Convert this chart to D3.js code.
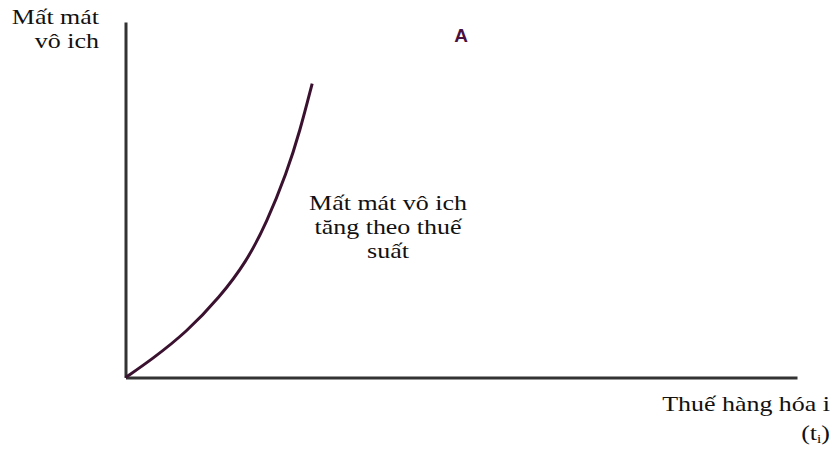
<!DOCTYPE html>
<html><head><meta charset="utf-8">
<script src="https://cdn.jsdelivr.net/npm/d3@7"></script>
<style>
body{margin:0;background:#fff;}
svg{display:block;}
text{font-family:"Liberation Serif","Times New Roman",serif;fill:#111;}
</style></head>
<body>
<svg id="c" width="833" height="449"></svg>
<script>
// Tax rate (share of x-axis) and deadweight loss (share of y-axis)
const taxRate = [0, 4.0, 9.1, 14.0, 18.0, 21.0, 24.0, 26.0, 27.8];
const deadweightLoss = [0, 5.2, 12.8, 22.5, 32.5, 43.5, 57.5, 69.5, 82.7];
const yTitle = ["Mất mát", "vô ich"];
const xTitle = "Thuế hàng hóa i";
const noteLines = ["Mất mát vô ich", "tăng theo thuế", "suất"];
const panelLabel = "A";

const svg = d3.select("#c");
const x = d3.scaleLinear().domain([0, 100]).range([125.5, 797]);
const y = d3.scaleLinear().domain([0, 100]).range([377.5, 22]);

// axes (no ticks)
svg.append("g").attr("transform", `translate(0,${y(0)})`)
  .call(d3.axisBottom(x).tickValues([]).tickSizeOuter(0))
  .select(".domain").attr("stroke", "#333").attr("stroke-width", 3);
svg.append("g").attr("transform", `translate(${x(0)},0)`)
  .call(d3.axisLeft(y).tickValues([]).tickSizeOuter(0))
  .select(".domain").attr("stroke", "#333").attr("stroke-width", 3);

// curve
const pts = taxRate.map((t, i) => [t, deadweightLoss[i]]);
svg.append("path")
  .attr("d", d3.line().x(d => x(d[0])).y(d => y(d[1])).curve(d3.curveBasis)(pts))
  .attr("fill", "none").attr("stroke", "#3a1230").attr("stroke-width", 3)
  .attr("stroke-linecap", "butt");

const fs = 22, sx = 1.18;
function label(px, py, anchor) {
  return svg.append("g").attr("transform", `translate(${px},${py}) scale(${sx},1)`)
    .append("text").attr("text-anchor", anchor).attr("font-size", fs);
}
// y title
yTitle.forEach((s, i) => label(99, 24 + i * 24, "end").text(s));

// x title
label(830, 411, "end").text(xTitle);
const t2 = label(830, 440, "end");
t2.append("tspan").text("(t");
t2.append("tspan").attr("font-size", 13).attr("dy", 3).text("i");
t2.append("tspan").attr("dy", -3).text(")");

// note
noteLines.forEach((s, i) => label(388, 210 + i * 24, "middle").text(s));

// panel label
svg.append("text").attr("x", 461).attr("y", 42).attr("text-anchor", "middle")
  .style("font-family", "'Liberation Sans',Arial,sans-serif")
  .style("font-weight", "bold").style("fill", "#4a1040").attr("font-size", 19)
  .text(panelLabel);
</script>
</body></html>
